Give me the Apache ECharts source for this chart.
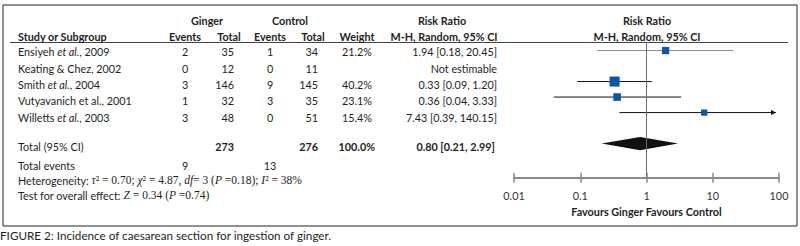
<!DOCTYPE html>
<html>
<head>
<meta charset="utf-8">
<script src="https://cdn.jsdelivr.net/npm/echarts@6/dist/echarts.min.js"></script>
<style>
  html, body { margin: 0; padding: 0; background: #fff; }
  #forest { width: 800px; height: 246px; }
</style>
</head>
<body>
<div id="forest"></div>
<script>
// studies (rich markup only marks the italic "et al.")
var studies = ['Ensiyeh {i|et al.}, 2009', 'Keating & Chez, 2002', 'Smith {i|et al.}, 2004', 'Vutyavanich et al., 2001', 'Willetts {i|et al.}, 2003'];
var gingerEvents = [2, 0, 3, 1, 3];
var gingerTotal = [35, 12, 146, 32, 48];
var controlEvents = [1, 0, 9, 3, 0];
var controlTotal = [34, 11, 145, 35, 51];
var weights = [21.2, null, 40.2, 23.1, 15.4];
var rr = [1.94, null, 0.33, 0.36, 7.43];
var rrLow = [0.18, null, 0.09, 0.04, 0.39];
var rrHigh = [20.45, null, 1.20, 3.33, 140.15];
var rrText = ['1.94 [0.18, 20.45]', 'Not estimable', '0.33 [0.09, 1.20]', '0.36 [0.04, 3.33]', '7.43 [0.39, 140.15]'];

var totalGinger = 273, totalControl = 276, totalWeight = '100.0%';
var pooled = [0.80, 0.21, 2.99];
var pooledText = '0.80 [0.21, 2.99]';
var totalEventsGinger = 9, totalEventsControl = 13;

var tickLabels = ['0.01', '0.1', '1', '10', '100'];
var studyRows = [0, 1, 2, 3, 4];
var pooledRow = 6;
var ciColor = ['#8c8c8c', '#111', '#111', '#111', '#111'];

var FONT = 'Lato';
var FS = 10.8;
var chart = echarts.init(document.getElementById('forest'), null, { renderer: 'svg' });

function txt(x, y, text, align, bold, size) {
  return {
    type: 'text', x: x, y: y, silent: true,
    style: {
      text: text, align: align || 'left', verticalAlign: 'middle',
      font: (bold ? 'bold ' : '') + (size || FS) + 'px ' + FONT,
      fill: '#1e1e1e',
      rich: { i: { fontStyle: 'italic', fontFamily: FONT, fontSize: size || FS, fill: '#1e1e1e' } }
    }
  };
}

var graphics = [
  { type: 'rect', shape: { x: 3, y: 5, width: 794, height: 221 }, style: { fill: 'none', stroke: '#222', lineWidth: 1 }, silent: true },
  { type: 'line', shape: { x1: 10, y1: 42.5, x2: 788, y2: 42.5 }, style: { stroke: '#444', lineWidth: 1 }, silent: true },
  txt(207, 20, 'Ginger', 'center', true),
  txt(290, 20, 'Control', 'center', true),
  txt(18, 36, 'Study or Subgroup', 'left', true),
  txt(185, 36, 'Events', 'center', true),
  txt(229, 36, 'Total', 'center', true),
  txt(270, 36, 'Events', 'center', true),
  txt(313, 36, 'Total', 'center', true),
  txt(357, 36, 'Weight', 'center', true),
  txt(442, 20, 'Risk Ratio', 'center', true),
  txt(444, 36, 'M-H, Random, 95% CI', 'center', true),
  txt(647, 20, 'Risk Ratio', 'center', true),
  txt(647, 36, 'M-H, Random, 95% CI', 'center', true)
];

studies.forEach(function (s, i) {
  var y = 51.7 + i * 16.4;
  graphics.push(txt(18, y, s, 'left'));
  graphics.push(txt(185, y, String(gingerEvents[i]), 'center'));
  graphics.push(txt(234, y, String(gingerTotal[i]), 'right'));
  graphics.push(txt(270, y, String(controlEvents[i]), 'center'));
  graphics.push(txt(318, y, String(controlTotal[i]), 'right'));
  if (weights[i] != null) graphics.push(txt(372, y, weights[i].toFixed(1) + '%', 'right'));
  graphics.push(txt(497, y, rrText[i], 'right'));
});

graphics.push(txt(18, 146.7, 'Total (95% CI)', 'left'));
graphics.push(txt(234, 146.7, String(totalGinger), 'right', true));
graphics.push(txt(318, 146.7, String(totalControl), 'right', true));
graphics.push(txt(375, 146.7, totalWeight, 'right', true));
graphics.push(txt(495, 146.7, pooledText, 'right', true));
graphics.push(txt(18, 165, 'Total events', 'left'));
graphics.push(txt(185, 165, String(totalEventsGinger), 'center'));
graphics.push(txt(270, 165, String(totalEventsControl), 'center'));

var serif = { fontFamily: 'Liberation Serif', fontSize: 11.5, fill: '#1e1e1e' };
var serifI = { fontFamily: 'Liberation Serif', fontSize: 11.5, fontStyle: 'italic', fill: '#1e1e1e' };
var sans = { fontFamily: FONT, fontSize: FS, fill: '#1e1e1e' };
graphics.push({
  type: 'text', x: 18, y: 180, silent: true,
  style: {
    text: '{s|Heterogeneity: }{mi|τ}{m|² = 0.70; }{mi|χ}{m|² = 4.87, }{mi|df}{m|= 3 (}{mi|P}{m| =0.18); }{mi|I}{m|² = 38%}',
    verticalAlign: 'middle', font: FS + 'px ' + FONT,
    rich: { s: sans, m: serif, mi: serifI }
  }
});
graphics.push({
  type: 'text', x: 18, y: 195, silent: true,
  style: {
    text: '{s|Test for overall effect: }{mi|Z}{m| = 0.34 (}{mi|P}{m| =0.74)}',
    verticalAlign: 'middle', font: FS + 'px ' + FONT,
    rich: { s: sans, m: serif, mi: serifI }
  }
});
graphics.push({
  type: 'text', x: 0, y: 235, silent: true,
  style: { text: 'FIGURE 2: Incidence of caesarean section for ingestion of ginger.', verticalAlign: 'middle', font: '11.7px ' + FONT, fill: '#1e1e1e' }
});

var studyData = [];
studyRows.forEach(function (r, i) {
  if (rr[i] != null) studyData.push([r, rr[i], rrLow[i], rrHigh[i], weights[i], i]);
});

var XMIN = 0.01, XMAX = 100;

var option = {
  animation: false,
  grid: { left: 514, right: 21, top: 42, bottom: 68.3, containLabel: false },
  xAxis: [{
    type: 'log', logBase: 10, min: XMIN, max: XMAX, position: 'bottom',
    axisLine: { onZero: false, lineStyle: { color: '#8a8a8a', width: 2 } },
    axisTick: { length: 5, lineStyle: { color: '#8a8a8a', width: 1.5 } },
    axisLabel: {
      margin: 12, color: '#333', fontFamily: FONT, fontSize: FS,
      formatter: function (v, idx) { return tickLabels[idx]; }
    },
    splitLine: { show: false },
    name: 'Favours Ginger Favours Control', nameLocation: 'middle', nameGap: 27,
    nameTextStyle: { fontFamily: FONT, fontWeight: 'bold', fontSize: FS, color: '#1e1e1e' }
  }, {
    type: 'log', logBase: 10, min: XMIN, max: XMAX, position: 'bottom', gridIndex: 0,
    axisLine: { show: false, onZero: false },
    axisTick: { inside: true, length: 5, lineStyle: { color: '#8a8a8a', width: 1.5 } },
    axisLabel: { show: false },
    splitLine: { show: false }
  }],
  yAxis: { type: 'value', inverse: true, min: -0.55, max: 8.2, show: false },
  series: [{
    type: 'custom',
    coordinateSystem: 'cartesian2d',
    encode: { x: [1, 2], y: 0 },
    data: studyData,
    renderItem: function (params, api) {
      var y = api.value(0), est = api.value(1), lo = api.value(2), hi = api.value(3), w = api.value(4);
      var idx = api.value(5);
      var p0 = api.coord([Math.max(lo, XMIN), y]);
      var p1 = api.coord([Math.min(hi, XMAX), y]);
      var c = api.coord([est, y]);
      var s = 1.58 * Math.sqrt(w);
      var children = [];
      var endX = hi > XMAX ? p1[0] - 3 : p1[0];
      children.push({ type: 'line', shape: { x1: p0[0], y1: c[1], x2: endX, y2: c[1] }, style: { stroke: ciColor[idx], lineWidth: 1 } });
      if (hi > XMAX) {
        children.push({ type: 'polygon', shape: { points: [[endX - 5, c[1] - 2.5], [endX, c[1]], [endX - 5, c[1] + 2.5]] }, style: { fill: '#111' } });
      }
      children.push({ type: 'rect', shape: { x: c[0] - s / 2, y: c[1] - s / 2, width: s, height: s }, style: { fill: '#0a56a0' } });
      return { type: 'group', children: children };
    },
    markLine: {
      silent: true, symbol: 'none', label: { show: false },
      lineStyle: { color: '#6e6e6e', type: 'solid', width: 1 },
      data: [{ xAxis: 1 }]
    }
  }, {
    type: 'custom',
    coordinateSystem: 'cartesian2d',
    encode: { x: [1, 2, 3], y: 0 },
    data: [[pooledRow, pooled[0], pooled[1], pooled[2]]],
    renderItem: function (params, api) {
      var y = api.value(0);
      var l = api.coord([api.value(2), y]);
      var r = api.coord([api.value(3), y]);
      var c = api.coord([api.value(1), y]);
      var h = 6.6;
      return {
        type: 'polygon',
        shape: { points: [[l[0], l[1]], [c[0], c[1] - h], [r[0], r[1]], [c[0], c[1] + h]] },
        style: { fill: '#111' }
      };
    }
  }],
  graphic: graphics
};

chart.setOption(option);
</script>
</body>
</html>
